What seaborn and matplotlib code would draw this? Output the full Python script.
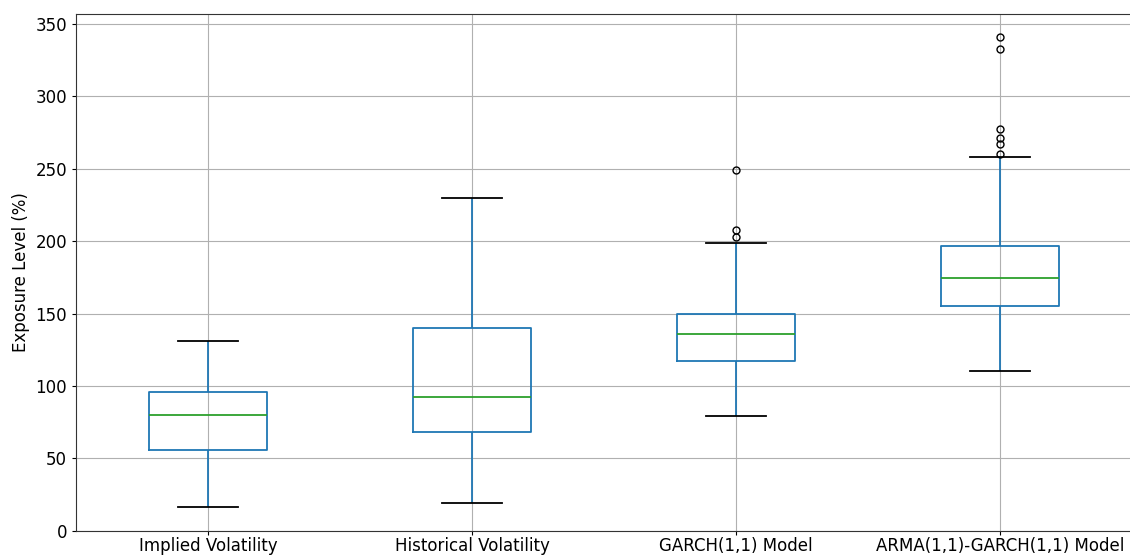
import numpy as np
import pandas as pd
import seaborn as sns
import matplotlib
matplotlib.use('Agg')
import matplotlib.pyplot as plt

###############################
######### data ################
###############################
models = ['Implied Volatility', 'Historical Volatility',
          'GARCH(1,1) Model', 'ARMA(1,1)-GARCH(1,1) Model']

implied = [16, 38, 56, 71, 80, 87, 96, 114, 131]
historical = [19, 44, 68, 81, 92, 113, 140, 188, 230]
garch = [79, 92, 101, 108, 113, 117, 121, 126, 130, 133, 136,
         139, 142, 145, 148, 150, 176, 199, 203, 208, 249]
arma = [110, 121, 130, 137, 143, 148, 152, 155, 158, 162, 165, 168, 171, 173, 174.5,
        177, 180, 184, 187, 190, 193, 196.5, 258, 260.5, 267, 271, 277.5, 333, 341]

values = [implied, historical, garch, arma]
df = pd.DataFrame({
    'Model': np.repeat(models, [len(v) for v in values]),
    'Exposure': np.concatenate(values),
})

##############################
######## plot ################
##############################
plt.rcParams.update({
    'font.size': 12,
    'xtick.labelsize': 12,
    'ytick.labelsize': 12,
    'axes.labelsize': 12,
    'xtick.major.size': 3,
    'xtick.major.pad': 1.2,
    'ytick.major.size': 3,
    })

fig = plt.figure(figsize=(11.3, 5.55), dpi=100)
ax = fig.add_axes([76 / 1130, 24 / 555, 1056 / 1130, 517 / 555])

sns.boxplot(data=df, x='Model', y='Exposure', order=models,
            fill=False, width=0.45, linewidth=1.3, whis=1.5,
            boxprops={'color': '#1f77b4'},
            whiskerprops={'color': '#1f77b4'},
            capprops={'color': 'black'},
            medianprops={'color': '#2ca02c'},
            flierprops={'marker': 'o', 'markeredgecolor': 'black',
                        'markerfacecolor': 'none', 'markeredgewidth': 1.0,
                        'markersize': 5},
            ax=ax)

ax.grid(True, color='#b0b0b0', linewidth=0.8)
ax.set_axisbelow(True)
ax.set_xlim(-0.5, 3.5)
ax.set_ylim(-0.3, 357)
ax.set_xlabel('')
ax.set_ylabel('Exposure Level (%)')
for sp in ax.spines.values():
    sp.set_color('#333333')

fig.savefig('out.png', dpi=100)
